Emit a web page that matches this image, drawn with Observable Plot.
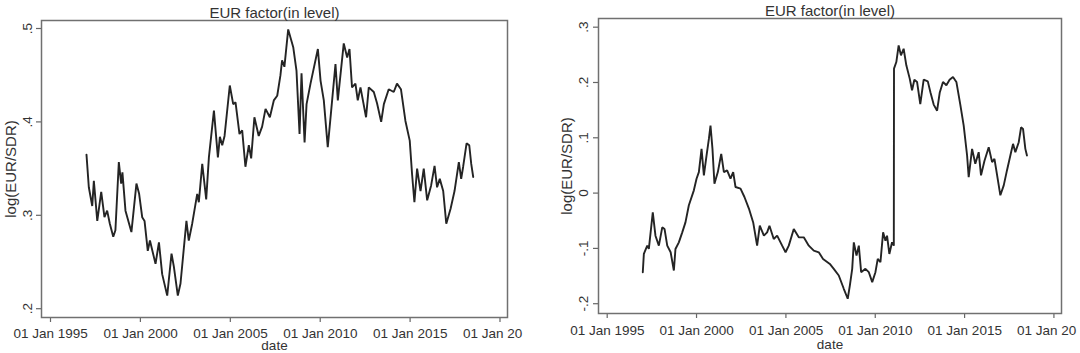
<!DOCTYPE html>
<html><head><meta charset="utf-8">
<script src="https://cdn.jsdelivr.net/npm/d3@7"></script>
<script src="https://cdn.jsdelivr.net/npm/@observablehq/plot@0.6"></script>
<style>
body{margin:0;background:#fff;}
#wrap{display:flex;width:1080px;height:353px;background:#fff;}
#wrap svg{display:block;}
</style></head><body><div id="wrap"></div>
<script>
// ---- data ----
const chartTitle = "EUR factor(in level)";
const yAxisTitle = "log(EUR/SDR)";
const xAxisTitle = "date";

const xTickYears = [1995, 2000, 2005, 2010, 2015, 2020];
const xTickLabels = ["01 Jan 1995", "01 Jan 2000", "01 Jan 2005", "01 Jan 2010", "01 Jan 2015", "01 Jan 20"];

const leftYTicks = [0.2, 0.3, 0.4, 0.5];
const leftYTickLabels = [".2", ".3", ".4", ".5"];
const rightYTicks = [-0.2, -0.1, 0, 0.1, 0.2, 0.3];
const rightYTickLabels = ["-.2", "-.1", "0", ".1", ".2", ".3"];

const leftYears = [1997.00,1997.13,1997.32,1997.41,1997.60,1997.82,1998.00,1998.15,1998.30,1998.49,
1998.61,1998.80,1998.93,1999.00,1999.17,1999.50,1999.78,1999.93,2000.10,2000.23,
2000.41,2000.53,2000.84,2001.03,2001.21,2001.49,2001.73,2001.86,2002.08,2002.23,
2002.56,2002.69,2002.88,2003.16,2003.25,2003.44,2003.66,2003.81,2004.09,2004.31,
2004.42,2004.55,2004.68,2004.97,2005.16,2005.29,2005.51,2005.66,2005.84,2006.03,
2006.16,2006.34,2006.58,2006.77,2006.96,2007.20,2007.42,2007.61,2007.79,2007.88,
2008.01,2008.22,2008.35,2008.50,2008.68,2008.85,2008.96,2009.13,2009.24,2009.46,
2009.87,2010.02,2010.20,2010.42,2010.61,2010.85,2010.98,2011.31,2011.50,2011.63,
2011.77,2011.96,2012.09,2012.24,2012.55,2012.70,2012.98,2013.16,2013.39,2013.54,
2013.81,2014.09,2014.27,2014.49,2014.74,2014.98,2015.11,2015.24,2015.39,2015.58,
2015.76,2015.95,2016.17,2016.36,2016.50,2016.65,2016.84,2017.01,2017.25,2017.47,
2017.71,2017.84,2017.95,2018.14,2018.29,2018.40,2018.51];
const leftValues = [.365,.330,.310,.337,.294,.325,.298,.305,.291,.277,
.284,.357,.334,.346,.305,.282,.334,.323,.298,.294,
.262,.273,.248,.271,.237,.214,.259,.245,.214,.227,
.294,.273,.291,.323,.314,.355,.317,.362,.412,.362,
.384,.375,.385,.439,.419,.421,.387,.391,.352,.375,
.361,.405,.385,.395,.414,.405,.423,.428,.450,.466,
.459,.499,.490,.480,.455,.387,.452,.378,.419,.441,
.478,.444,.423,.373,.412,.462,.423,.484,.469,.478,
.437,.441,.423,.437,.405,.437,.432,.420,.400,.419,
.435,.432,.441,.435,.401,.380,.344,.314,.350,.326,
.350,.316,.332,.353,.330,.339,.326,.291,.307,.326,
.357,.339,.352,.377,.375,.355,.341];

const rightYears = [1996.99,1997.05,1997.24,1997.33,1997.55,1997.70,1997.89,1998.08,1998.21,1998.36,
1998.55,1998.73,1998.82,1999.01,1999.20,1999.38,1999.57,1999.85,2000.00,2000.13,
2000.28,2000.41,2000.56,2000.69,2000.78,2000.89,2001.00,2001.19,2001.38,2001.53,
2001.71,2001.90,2002.05,2002.18,2002.46,2002.68,2002.93,2003.17,2003.39,2003.54,
2003.77,2003.95,2004.08,2004.32,2004.51,2004.79,2004.98,2005.16,2005.44,2005.72,
2006.00,2006.28,2006.56,2006.84,2007.08,2007.46,2007.68,2007.96,2008.24,2008.46,
2008.58,2008.71,2008.80,2008.95,2009.08,2009.21,2009.45,2009.64,2009.83,2010.01,
2010.14,2010.29,2010.44,2010.57,2010.66,2010.79,2010.94,2011.04,2011.05,2011.18,
2011.31,2011.44,2011.59,2011.74,2011.93,2012.06,2012.19,2012.34,2012.52,2012.71,
2012.94,2013.09,2013.27,2013.46,2013.61,2013.79,2013.98,2014.16,2014.35,2014.54,
2014.76,2014.95,2015.14,2015.23,2015.42,2015.60,2015.79,2015.92,2016.11,2016.35,
2016.54,2016.67,2016.82,2017.00,2017.19,2017.37,2017.56,2017.71,2017.84,2018.03,
2018.16,2018.27,2018.40,2018.49];
const rightValues = [-0.143,-0.110,-0.095,-0.101,-0.035,-0.077,-0.095,-0.062,-0.065,-0.095,
-0.107,-0.140,-0.101,-0.089,-0.071,-0.053,-0.022,0.005,0.026,0.038,
0.080,0.032,0.068,0.098,0.122,0.080,0.017,0.038,0.071,0.038,
0.041,0.026,0.038,0.011,0.008,-0.007,-0.028,-0.053,-0.095,-0.059,
-0.077,-0.071,-0.059,-0.083,-0.077,-0.095,-0.107,-0.095,-0.065,-0.080,
-0.080,-0.095,-0.104,-0.107,-0.119,-0.128,-0.137,-0.149,-0.173,-0.191,
-0.167,-0.137,-0.089,-0.113,-0.095,-0.143,-0.137,-0.143,-0.161,-0.143,
-0.119,-0.125,-0.071,-0.086,-0.077,-0.110,-0.089,-0.095,0.225,0.237,
0.267,0.249,0.261,0.231,0.207,0.186,0.205,0.201,0.161,0.205,
0.202,0.182,0.160,0.149,0.182,0.201,0.195,0.205,0.210,0.201,
0.160,0.122,0.068,0.029,0.080,0.053,0.074,0.032,0.058,0.083,
0.056,0.062,0.032,-0.004,0.014,0.041,0.068,0.089,0.074,0.092,
0.119,0.116,0.080,0.068];

// ---- helpers ----
function toDate(y) {
  const yr = Math.floor(y);
  const a = Date.UTC(yr, 0, 1), b = Date.UTC(yr + 1, 0, 1);
  return new Date(a + (y - yr) * (b - a));
}
const xTickDates = xTickYears.map(toDate);

function panel(cfg) {
  const data = cfg.years.map((y, i) => ({date: toDate(y), value: cfg.values[i]}));
  const font = "'Liberation Sans', Arial, sans-serif";
  return Plot.plot({
    width: 540,
    height: 353,
    marginLeft: cfg.ml, marginRight: cfg.mr, marginTop: cfg.mt, marginBottom: cfg.mb,
    x: {type: "utc", domain: cfg.xDomain.map(toDate)},
    y: {domain: cfg.yDomain},
    style: {fontFamily: font, fontSize: "13.5px", color: "#333", background: "#fff", overflow: "hidden"},
    marks: [
      Plot.axisY(cfg.yTicks, {tickSize: 5, fill: "none", label: null, stroke: "#666", strokeWidth: 1.2}),
      Plot.axisX(xTickDates, {tickSize: 5, fill: "none", label: null, stroke: "#666", strokeWidth: 1.2}),
      Plot.text(cfg.yTicks, {y: d => d, text: cfg.yTickLabels, frameAnchor: "left", rotate: -90,
        dx: cfg.yTickDx, textAnchor: "middle", lineAnchor: "middle", fontSize: 13.5, fill: "#333"}),
      Plot.text(xTickDates, {x: d => d, text: xTickLabels, frameAnchor: "bottom", dy: cfg.xTickDy,
        dx: -37, textAnchor: "start", lineAnchor: "middle", fontSize: 13.5, fill: "#333"}),
      Plot.line(data, {x: "date", y: "value", stroke: "#242424", strokeWidth: 1.9, strokeLinejoin: "miter"}),
      Plot.frame({stroke: "#707070", strokeWidth: 1.5}),
      Plot.text([chartTitle], {text: d => d, frameAnchor: "top", dy: cfg.titleDy, lineAnchor: "middle", fontSize: 15, fill: "#333"}),
      Plot.text([yAxisTitle], {text: d => d, frameAnchor: "left", rotate: -90, dx: cfg.yTitleDx,
        textAnchor: "middle", lineAnchor: "middle", fontSize: 15, fill: "#333"}),
      Plot.text([xAxisTitle], {text: d => d, frameAnchor: "bottom", dy: cfg.xTitleDy, lineAnchor: "middle", fontSize: 13.5, fill: "#333"})
    ]
  });
}

const wrap = document.getElementById("wrap");
wrap.appendChild(panel({
  years: leftYears, values: leftValues, yTicks: leftYTicks, yTickLabels: leftYTickLabels,
  ml: 41, mr: 33, mt: 20, mb: 36,
  xDomain: [1994.499, 2020.417], yDomain: [0.19058, 0.50857],
  yTickDx: -14, yTitleDx: -30, xTickDy: 16, xTitleDy: 28, titleDy: -7.5
}));
wrap.appendChild(panel({
  years: rightYears, values: rightValues, yTicks: rightYTicks, yTickLabels: rightYTickLabels,
  ml: 58, mr: 19, mt: 18, mb: 40,
  xDomain: [1994.513, 2020.423], yDomain: [-0.2177, 0.3157],
  yTickDx: -15, yTitleDx: -31, xTickDy: 17.5, xTitleDy: 31, titleDy: -7.5
}));
</script>
</body></html>
